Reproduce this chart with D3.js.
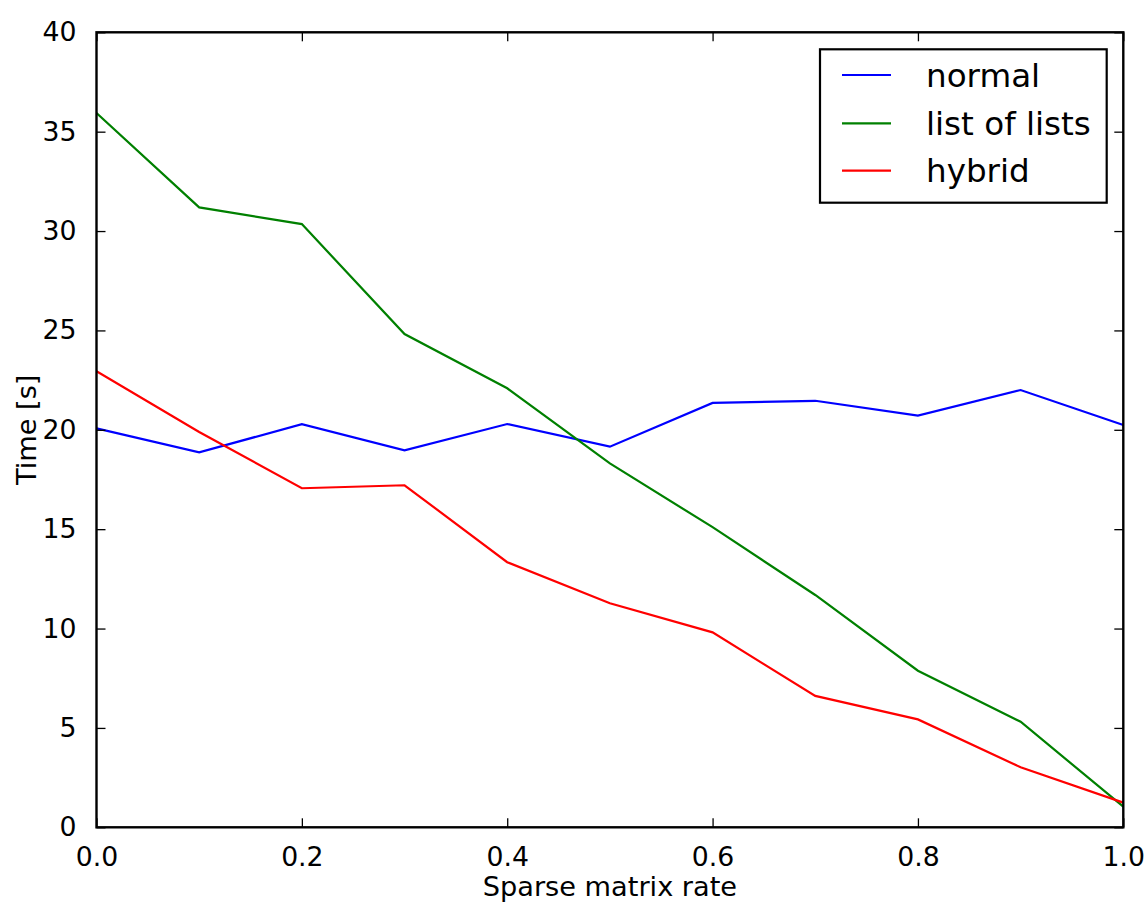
<!DOCTYPE html>
<html>
<head>
<meta charset="utf-8">
<script src="https://cdn.jsdelivr.net/npm/d3@7"></script>
<style>
  html, body { margin: 0; padding: 0; background: #fff; }
  svg { display: block; font-family: "DejaVu Sans", sans-serif; }
</style>
</head>
<body>
<svg id="chart" width="1148" height="905"></svg>
<script>
// ---- data ----
const rates = [0.0, 0.1, 0.2, 0.3, 0.4, 0.5, 0.6, 0.7, 0.8, 0.9, 1.0];
const normal = [20.07, 18.87, 20.28, 18.97, 20.29, 19.15, 21.35, 21.46, 20.71, 22.0, 20.24];
const listOfLists = [35.94, 31.19, 30.35, 24.82, 22.09, 18.31, 15.1, 11.69, 7.88, 5.31, 1.04];
const hybrid = [22.95, 19.89, 17.06, 17.21, 13.34, 11.27, 9.81, 6.61, 5.43, 3.02, 1.24];
const seriesNames = ["normal", "list of lists", "hybrid"];
const seriesColors = ["#0000ff", "#008000", "#ff0000"];
const xTicks = [0.0, 0.2, 0.4, 0.6, 0.8, 1.0];
const yTicks = [0, 5, 10, 15, 20, 25, 30, 35, 40];
const xLabel = "Sparse matrix rate";
const yLabel = "Time [s]";

// ---- layout ----
const pLeft = 96.5, pRight = 1123.3, pTop = 32.3, pBottom = 827.3;
const svg = d3.select("#chart");
const x = d3.scaleLinear().domain([0, 1]).range([pLeft, pRight]);
const y = d3.scaleLinear().domain([0, 40]).range([pBottom, pTop]);
const tickLen = 9, fontSize = 26.7, labelFont = 27.2, legendFont = 32.6;

const series = [normal, listOfLists, hybrid];

// clip
svg.append("defs").append("clipPath").attr("id", "clip")
  .append("rect").attr("x", pLeft).attr("y", pTop)
  .attr("width", pRight - pLeft).attr("height", pBottom - pTop);

const line = d3.line().x((d, i) => x(rates[i])).y(d => y(d));
series.forEach((s, k) => {
  svg.append("path").datum(s)
    .attr("clip-path", "url(#clip)")
    .attr("fill", "none")
    .attr("stroke", seriesColors[k])
    .attr("stroke-width", 2.2)
    .attr("stroke-linejoin", "miter")
    .attr("d", line);
});

// axes (ticks inward, all four sides)
const fmtX = d3.format(".1f");
const axB = d3.axisBottom(x).tickValues(xTicks).tickFormat(fmtX).tickSizeInner(-tickLen).tickSizeOuter(0).tickPadding(11 + tickLen);
const axT = d3.axisTop(x).tickValues(xTicks).tickFormat("").tickSizeInner(-tickLen).tickSizeOuter(0);
const axL = d3.axisLeft(y).tickValues(yTicks).tickFormat(d3.format("d")).tickSizeInner(-tickLen).tickSizeOuter(0).tickPadding(11 + tickLen);
const axR = d3.axisRight(y).tickValues(yTicks).tickFormat("").tickSizeInner(-tickLen).tickSizeOuter(0);

function styleAxis(g) {
  g.select(".domain").remove();
  g.selectAll(".tick line").attr("stroke", "#000").attr("stroke-width", 1.3);
  g.selectAll(".tick text").attr("fill", "#000").attr("font-size", fontSize)
    .attr("font-family", "DejaVu Sans, sans-serif");
}
svg.append("g").attr("transform", `translate(0,${pBottom})`).call(axB).call(styleAxis);
svg.append("g").attr("transform", `translate(0,${pTop})`).call(axT).call(styleAxis);
svg.append("g").attr("transform", `translate(${pLeft},0)`).call(axL).call(styleAxis);
svg.append("g").attr("transform", `translate(${pRight},0)`).call(axR).call(styleAxis);

// frame
svg.append("rect").attr("x", pLeft).attr("y", pTop)
  .attr("width", pRight - pLeft).attr("height", pBottom - pTop)
  .attr("fill", "none").attr("stroke", "#000").attr("stroke-width", 2.4);

// axis labels
svg.append("text").attr("x", (pLeft + pRight) / 2).attr("y", 896)
  .attr("text-anchor", "middle").attr("font-size", labelFont).text(xLabel);
svg.append("text").attr("transform", `translate(36,${(pTop + pBottom) / 2}) rotate(-90)`)
  .attr("text-anchor", "middle").attr("font-size", labelFont).text(yLabel);

// legend
const lg = svg.append("g");
lg.append("rect").attr("x", 820).attr("y", 49.3).attr("width", 286.7).attr("height", 153.4)
  .attr("fill", "#fff").attr("stroke", "#000").attr("stroke-width", 2.2);
const rowY = [75, 123.3, 170.7];
seriesNames.forEach((n, k) => {
  lg.append("line").attr("x1", 842).attr("x2", 891).attr("y1", rowY[k]).attr("y2", rowY[k])
    .attr("stroke", seriesColors[k]).attr("stroke-width", 2.2);
  lg.append("text").attr("x", 926).attr("y", rowY[k]).attr("dy", "0.36em")
    .attr("font-size", legendFont).attr("fill", "#000").text(n);
});
</script>
</body>
</html>
